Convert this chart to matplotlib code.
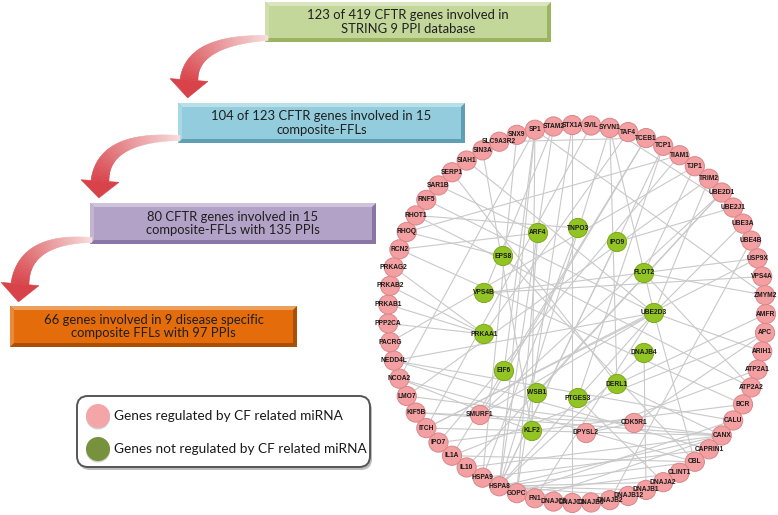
import numpy as np
import matplotlib.pyplot as plt
from matplotlib.patches import Circle, Polygon, FancyBboxPatch
from matplotlib.colors import to_rgb

# ---- data ----
ring_genes = ['AMFR', 'APC', 'ARIH1', 'ATP2A1', 'ATP2A2', 'BCR', 'CALU', 'CANX',
              'CAPRIN1', 'CBL', 'CLINT1', 'DNAJA2', 'DNAJB1', 'DNAJB12', 'DNAJB2',
              'DNAJB6', 'DNAJC3', 'DNAJC5', 'FN1', 'GOPC', 'HSPA8', 'HSPA9', 'IL10',
              'IL1A', 'IPO7', 'ITCH', 'KIF5B', 'LMO7', 'NCOA2', 'NEDD4L', 'PACRG',
              'PPP2CA', 'PRKAB1', 'PRKAB2', 'PRKAG2', 'RCN2', 'RHOQ', 'RHOT1', 'RNF5',
              'SAR1B', 'SERP1', 'SIAH1', 'SIN3A', 'SLC9A3R2', 'SNX9', 'SP1', 'STAM2',
              'STX1A', 'SVIL', 'SYVN1', 'TAF4', 'TCEB1', 'TCP1', 'TIAM1', 'TJP1',
              'TRIM2', 'UBE2D1', 'UBE2J1', 'UBE3A', 'UBE4B', 'USP9X', 'VPS4A', 'ZMYM2']

inner_genes = ['UBE2D3', 'DNAJB4', 'DERL1', 'PTGES3', 'WSB1', 'EIF6', 'PRKAA1',
               'VPS4B', 'EPS8', 'ARF4', 'TNPO3', 'IPO9', 'FLOT2', 'KLF2',
               'SMURF1', 'DPYSL2', 'CDK5R1']
# inner genes that are regulated by CF related miRNA (pink)
regulated_inner = ['SMURF1', 'DPYSL2', 'CDK5R1']

ppi_edges = [
    ('HSPA8', 'DNAJB1'), ('HSPA8', 'DNAJB12'), ('HSPA8', 'DNAJA2'), ('HSPA8', 'DNAJB6'),
    ('HSPA8', 'DNAJC5'), ('HSPA8', 'CANX'), ('HSPA8', 'CBL'), ('HSPA8', 'STAM2'),
    ('HSPA8', 'SYVN1'), ('HSPA8', 'UBE2D3'), ('HSPA8', 'DNAJB4'), ('HSPA8', 'IPO9'),
    ('HSPA8', 'TCP1'), ('HSPA8', 'SP1'), ('HSPA9', 'CAPRIN1'), ('HSPA9', 'TNPO3'),
    ('HSPA9', 'SNX9'), ('GOPC', 'CALU'), ('GOPC', 'ARF4'), ('GOPC', 'STX1A'),
    ('GOPC', 'CLINT1'), ('CANX', 'IL10'), ('CANX', 'ITCH'), ('CANX', 'DERL1'),
    ('CANX', 'LMO7'), ('CANX', 'KIF5B'), ('CBL', 'IL1A'), ('CBL', 'EPS8'),
    ('CBL', 'NCOA2'), ('CAPRIN1', 'NEDD4L'), ('UBE2D3', 'SYVN1'), ('UBE2D3', 'UBE3A'),
    ('UBE2D3', 'SMURF1'), ('UBE2D3', 'RNF5'), ('UBE2D3', 'SIAH1'), ('UBE2D3', 'TRIM2'),
    ('UBE2D3', 'NEDD4L'), ('UBE2D3', 'ITCH'), ('UBE2D3', 'CBL'), ('UBE2D3', 'ARIH1'),
    ('DERL1', 'SYVN1'), ('DERL1', 'AMFR'), ('DERL1', 'SERP1'), ('DNAJB4', 'DNAJB1'),
    ('PTGES3', 'DNAJA2'), ('PTGES3', 'TCP1'), ('EIF6', 'SP1'), ('WSB1', 'UBE2D1'),
    ('KLF2', 'SP1'), ('KLF2', 'SIN3A'), ('KLF2', 'NCOA2'), ('PRKAA1', 'PRKAB1'),
    ('PRKAA1', 'PRKAB2'), ('PRKAA1', 'PRKAG2'), ('PRKAA1', 'PPP2CA'), ('PRKAA1', 'TAF4'),
    ('VPS4B', 'VPS4A'), ('VPS4B', 'STAM2'), ('VPS4B', 'USP9X'), ('EPS8', 'RHOQ'),
    ('ARF4', 'SAR1B'), ('ARF4', 'RCN2'), ('TNPO3', 'RHOT1'), ('IPO9', 'UBE2J1'),
    ('FLOT2', 'TJP1'), ('FLOT2', 'ZMYM2'), ('FLOT2', 'ATP2A2'), ('SMURF1', 'UBE2D1'),
    ('SMURF1', 'TCEB1'), ('DPYSL2', 'ATP2A1'), ('DPYSL2', 'CDK5R1'), ('CDK5R1', 'APC'),
    ('CDK5R1', 'KIF5B'), ('APC', 'IL1A'), ('SP1', 'ZMYM2'), ('SP1', 'NCOA2'),
    ('SP1', 'SIN3A'), ('SP1', 'TAF4'), ('STX1A', 'SNX9'), ('STX1A', 'DNAJC3'),
    ('SVIL', 'ITCH'), ('TIAM1', 'RHOQ'), ('TIAM1', 'IPO7'), ('TJP1', 'PACRG'),
    ('TRIM2', 'LMO7'), ('UBE4B', 'DNAJB2'), ('USP9X', 'ITCH'), ('UBE2J1', 'SYVN1'),
    ('IL10', 'UBE2D1'), ('IL1A', 'TCEB1'), ('IPO7', 'BCR'), ('BCR', 'RCN2'),
    ('CALU', 'NEDD4L'), ('ATP2A2', 'RHOT1'), ('SLC9A3R2', 'TCEB1'), ('FN1', 'CANX'),
    ('FN1', 'UBE2D3'),
]

step_texts = ['123 of 419 CFTR genes involved in\nSTRING 9 PPI database',
              '104 of 123 CFTR genes involved in 15\ncomposite-FFLs',
              '80 CFTR genes involved in 15\ncomposite-FFLs with 135 PPIs',
              '66 genes involved in 9 disease specific\ncomposite FFLs with 97 PPIs']
legend_labels = ['Genes regulated by CF related miRNA',
                 'Genes not regulated by CF related miRNA']

# ---- layout (pixel coordinates, y downwards) ----
cx, cy, rad = 577, 314, 189
pos = {}
for i, g in enumerate(ring_genes):
    a = 2 * np.pi * i / len(ring_genes)
    pos[g] = (cx + rad * np.cos(a), cy + rad * np.sin(a))
inner_xy = [(654, 313), (644, 353), (617, 384), (578, 398), (537, 393), (504, 371),
            (484, 334), (484, 293), (503, 256), (538, 233), (578, 228), (617, 242),
            (644, 273), (532, 431), (480, 415), (586, 433), (634, 423)]
pos.update(dict(zip(inner_genes, inner_xy)))

step_boxes = [(265, 2, 551, 42, '#c4d79b', '#9bb45f'),
              (178, 103, 465, 143, '#93cddd', '#5f9fb3'),
              (90, 203, 376, 244, '#b3a2c7', '#8a76a5'),
              (10, 306, 297, 347, '#e46c0a', '#a94f06')]
arrows = [((268, 38), (192, 40), (189, 80), 98),
          ((180, 138), (103, 136), (100, 181), 198),
          ((92, 240), (24, 238), (20, 284), 302)]

fig = plt.figure(figsize=(7.78, 5.15), dpi=100)
ax = fig.add_axes([0, 0, 1, 1])
ax.set_xlim(0, 778)
ax.set_ylim(515, 0)
ax.axis('off')


def shade(c, f):
    c = np.array(to_rgb(c))
    return tuple(np.clip(c + (1 - c) * f, 0, 1)) if f > 0 else tuple(c * (1 + f))


# flow boxes with bevel
for (x0, y0, x1, y1, fc, dc), txt in zip(step_boxes, step_texts):
    b = 4
    ax.add_patch(Polygon([(x0, y0), (x1, y0), (x1, y1), (x0, y1)], fc=dc, ec='none'))
    ax.add_patch(Polygon([(x0, y0), (x1, y0), (x1 - b, y0 + b), (x0 + b, y0 + b)],
                         fc=shade(fc, 0.35), ec='none'))
    ax.add_patch(Polygon([(x0, y0), (x0 + b, y0 + b), (x0 + b, y1 - b), (x0, y1)],
                         fc=shade(fc, 0.2), ec='none'))
    ax.add_patch(Polygon([(x0 + b, y0 + b), (x1 - b, y0 + b), (x1 - b, y1 - b), (x0 + b, y1 - b)],
                         fc=fc, ec='none'))
    ax.text((x0 + x1) / 2, (y0 + y1) / 2, txt, ha='center', va='center',
            fontsize=9.4, family='Lato', color='#1f1f1f', linespacing=1.15)

# curved arrows with gradient
c_start = np.array(to_rgb('#f7dede'))
c_end = np.array(to_rgb('#d8434a'))
for p0, p1, p2, tip_y in arrows:
    p0, p1, p2 = map(np.array, (p0, p1, p2))
    t = np.linspace(0, 1, 50)
    P = ((1 - t) ** 2)[:, None] * p0 + (2 * (1 - t) * t)[:, None] * p1 + (t ** 2)[:, None] * p2
    d = 2 * (1 - t)[:, None] * (p1 - p0) + 2 * t[:, None] * (p2 - p1)
    d = d / np.linalg.norm(d, axis=1)[:, None]
    nrm = np.stack([-d[:, 1], d[:, 0]], axis=1)
    w = 5 + 13 * t
    L = P + nrm * w[:, None] / 2
    R = P - nrm * w[:, None] / 2
    for i in range(len(t) - 1):
        c = c_start + (c_end - c_start) * t[i] ** 0.8
        ax.add_patch(Polygon([L[i], L[i + 1], R[i + 1], R[i]], fc=c, ec=c, lw=0.4))
    end = P[-1]
    hd = d[-1]
    hn = np.array([-hd[1], hd[0]])
    hl = tip_y - end[1]
    ax.add_patch(Polygon([end + hn * 19, end - hn * 19, end + hd * hl], fc=c_end, ec=c_end, lw=0.4))

# network edges
for a, b in ppi_edges:
    (xa, ya), (xb, yb) = pos[a], pos[b]
    ax.plot([xa, xb], [ya, yb], color='#c9c9c9', lw=0.8, zorder=2, solid_capstyle='round')

# nodes
pink, pink_ec = '#f4a0a2', '#d98688'
green, green_ec = '#92c423', '#7ea81a'
for g, (x, y) in pos.items():
    reg = g in ring_genes or g in regulated_inner
    ax.add_patch(Circle((x, y), 9.6, fc=pink if reg else green,
                        ec=pink_ec if reg else green_ec, lw=0.7, zorder=3))
    ax.text(x, y, g, ha='center', va='center', fontsize=4.8, fontweight='bold',
            family='Liberation Sans', color='#1a1a1a', zorder=4)

# legend
ax.add_patch(FancyBboxPatch((79, 399), 293, 71, boxstyle='round,pad=0,rounding_size=11',
                            fc='#bdbdbd', ec='none', zorder=5))
ax.add_patch(FancyBboxPatch((77, 396), 293, 71, boxstyle='round,pad=0,rounding_size=11',
                            fc='white', ec='#555555', lw=1.4, zorder=6))
for (yy, fc), lab in zip([(416, '#f4a5a8'), (449, '#76923c')], legend_labels):
    ax.add_patch(Circle((98, yy + 1.5), 12, fc='#d0d0d0', ec='none', zorder=7))
    ax.add_patch(Circle((98, yy), 12, fc=fc, ec='none', zorder=8))
    ax.text(114, yy, lab, ha='left', va='center', fontsize=9.8, family='Lato',
            color='#1a1a1a', zorder=9)

fig.savefig('out.png', dpi=100)
